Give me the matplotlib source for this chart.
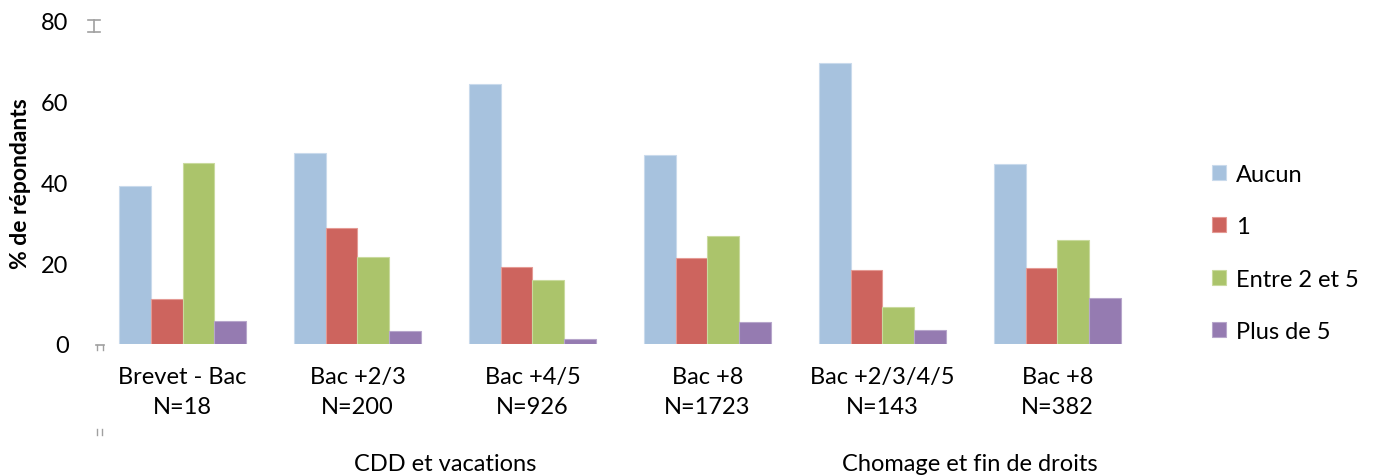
import matplotlib
matplotlib.use("Agg")
import matplotlib.pyplot as plt
import matplotlib.transforms as mtransforms
import numpy as np
from matplotlib.lines import Line2D

plt.rcParams['font.family'] = ['Lato', 'DejaVu Sans']

categories = ["Brevet - Bac\nN=18", "Bac +2/3\nN=200", "Bac +4/5\nN=926",
              "Bac +8\nN=1723", "Bac +2/3/4/5\nN=143", "Bac +8\nN=382"]
groups = ["CDD et vacations", "Chomage et fin de droits"]
group_spans = [(0, 3), (4, 5)]
series_names = ["Aucun", "1", "Entre 2 et 5", "Plus de 5"]
aucun = [39.1, 47.3, 64.5, 46.9, 69.6, 44.7]
un = [11.2, 28.7, 19.0, 21.4, 18.4, 18.7]
entre = [44.8, 21.6, 15.8, 26.8, 9.1, 25.7]
plus = [5.6, 3.1, 1.3, 5.4, 3.5, 11.3]
series = [aucun, un, entre, plus]
colors = ["#A7C2DE", "#CD645E", "#ABC46B", "#957BB1"]
edges = ["#C9DAEC", "#E49A94", "#C9DA9E", "#B7A6CB"]
yticks = [0, 20, 40, 60, 80]

W, H = 1383, 477
FS = 17
fig = plt.figure(figsize=(W / 100, H / 100), dpi=100)
ax = fig.add_axes([95 / W, 1 - 345 / H, 1050 / W, 323 / H])

n = len(series)
bw = 1 / (n + 1.5)
x = np.arange(len(categories))
for i, (vals, c, ec, name) in enumerate(zip(series, colors, edges, series_names)):
    ax.bar(x + (i - (n - 1) / 2) * bw, vals, width=bw, color=c, edgecolor=ec,
           linewidth=0.8, label=name)

ax.set_xlim(-0.5, len(categories) - 0.5)
ax.set_ylim(0, 80)
ax.set_yticks(yticks)
ax.set_yticklabels([str(t) for t in yticks], fontsize=FS)
ax.tick_params(axis='y', length=0, pad=19)
ax.set_xticks(x)
ax.set_xticklabels(categories, fontsize=FS, linespacing=1.5)
ax.tick_params(axis='x', length=0, pad=16)
for s in ax.spines.values():
    s.set_visible(False)
ax.set_ylabel("% de répondants", fontsize=16.5, fontweight='bold')
ax.yaxis.set_label_coords(-64 / 1050, 0.5)

trans = mtransforms.blended_transform_factory(ax.transData, fig.transFigure)
for g, (a, b) in zip(groups, group_spans):
    xc = (a + b) / 2
    ax.text(xc, 1 - 465 / H, g, transform=trans, fontsize=FS, ha='center', va='center')

leg = fig.legend(loc='center left', bbox_to_anchor=(1212 / W, 1 - 254 / H), frameon=False,
                 fontsize=FS, handlelength=0.6, handleheight=0.6, handletextpad=0.4,
                 labelspacing=1.33, borderaxespad=0, borderpad=0)

# small grey marker artifacts near the y-axis
gc = "#A0A0A0"
fig.add_artist(Line2D([88 / W, 100 / W], [1 - 21 / H, 1 - 21 / H], color=gc, lw=1.2))
fig.add_artist(Line2D([88 / W, 100 / W], [1 - 33 / H, 1 - 33 / H], color=gc, lw=1.2))
fig.add_artist(Line2D([94 / W, 94 / W], [1 - 21 / H, 1 - 33 / H], color=gc, lw=1.2))
fig.add_artist(Line2D([96 / W, 104 / W], [1 - 346 / H, 1 - 346 / H], color=gc, lw=1.2))
fig.add_artist(Line2D([97 / W, 97 / W], [1 - 346 / H, 1 - 351 / H], color=gc, lw=1.0))
fig.add_artist(Line2D([103 / W, 103 / W], [1 - 346 / H, 1 - 351 / H], color=gc, lw=1.0))
fig.add_artist(Line2D([97 / W, 97 / W], [1 - 430 / H, 1 - 436 / H], color=gc, lw=1.0))
fig.add_artist(Line2D([102 / W, 102 / W], [1 - 430 / H, 1 - 436 / H], color=gc, lw=1.0))

fig.savefig("out.png", dpi=100)
